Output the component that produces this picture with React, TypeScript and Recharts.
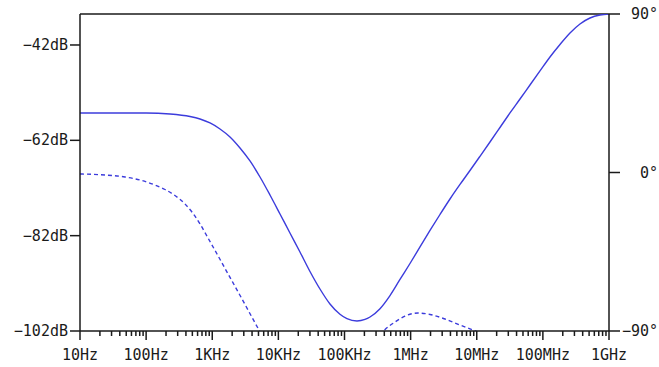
import React from 'react';
import { LineChart, Line, XAxis, YAxis, ReferenceLine } from 'recharts';

// ---- data ----
// magnitude (dB), solid line
const FREQ_MAG = [10, 100, 230, 461, 653, 925, 1310, 1855, 2628, 3722, 5272, 7467, 10580, 14970, 21220, 30060, 42570, 60300, 85400, 108900, 154400, 204000, 243000, 344300, 487600, 690600, 978000, 1386000, 1963000, 2780000, 3937000, 5580000, 7900000, 11190000, 15850000, 22450000, 31800000, 45100000, 63800000, 90400000, 128100000, 181500000, 257000000, 364000000, 516000000, 731000000, 1000000000];
const DB_MAG = [-56.26, -56.26, -56.47, -57.0, -57.52, -58.36, -59.62, -61.3, -63.61, -66.33, -69.69, -73.47, -77.45, -81.44, -85.42, -89.51, -93.19, -96.33, -98.49, -99.42, -99.9, -99.58, -99.06, -97.32, -94.57, -91.19, -87.84, -84.37, -80.91, -77.56, -74.31, -71.26, -68.33, -65.35, -62.35, -59.31, -56.26, -53.33, -50.39, -47.45, -44.52, -41.9, -39.48, -37.59, -36.34, -35.71, -35.5];

// phase (degrees), dashed line
const FREQ_PHASE = [10, 23.9, 48, 80.7, 136, 193, 273, 387, 512, 653, 863, 1181, 1561, 2820, 5094, 7467, 20000, 100000, 250000, 382000, 580000, 822000, 1294000, 1963000, 3310000, 5580000, 10450000, 15850000];
const DEG_PHASE = [-0.85, -1.42, -2.55, -4.26, -7.1, -9.65, -13.06, -17.89, -23.28, -29.24, -37.19, -46.28, -54.51, -71.83, -89.43, -100.2, -125, -125, -100, -90.3, -84.9, -81.5, -79.8, -80.6, -83.2, -86.6, -90.6, -93.4];

const X_MAJOR = [1e1, 1e2, 1e3, 1e4, 1e5, 1e6, 1e7, 1e8, 1e9];
const X_LABELS = ['10Hz', '100Hz', '1KHz', '10KHz', '100KHz', '1MHz', '10MHz', '100MHz', '1GHz'];
const DB_TICKS = [-102, -82, -62, -42];
const DB_LABELS = ['\u2212102dB', '\u221282dB', '\u221262dB', '\u221242dB'];
const DEG_TICKS = [-90, 0, 90];
const DEG_LABELS = ['\u221290\u00b0', '0\u00b0', '90\u00b0'];

const X_TICKS: number[] = [];
for (let k = 1; k <= 9; k++) {
  X_TICKS.push(Math.pow(10, k));
  if (k < 9) for (let m = 2; m <= 9; m++) X_TICKS.push(m * Math.pow(10, k));
}

const magData = FREQ_MAG.map((f, i) => ({ f, v: DB_MAG[i] }));
const phaseData = FREQ_PHASE.map((f, i) => ({ f, v: DEG_PHASE[i] }));

const FONT = '"DejaVu Sans Mono", monospace';
const INK = '#1a1a1a';
const BLUE = '#3c3cdc';

const XTick = (props: any) => {
  const { x, y, payload } = props;
  const v = payload.value;
  const idx = X_MAJOR.findIndex((m) => Math.abs(m - v) / m < 1e-9);
  const major = idx >= 0;
  return (
    <g>
      <line x1={x} x2={x} y1={y} y2={y + (major ? 9 : 5)} stroke={INK} strokeWidth={1.5} />
      {major && (
        <text x={x} y={y + 28.5} textAnchor="middle" fontFamily={FONT} fontSize={15} fill={INK}>
          {X_LABELS[idx]}
        </text>
      )}
    </g>
  );
};

const LeftTick = (props: any) => {
  const { x, y, payload } = props;
  const idx = DB_TICKS.indexOf(payload.value);
  return (
    <g>
      <line x1={x - 10} x2={x} y1={y} y2={y} stroke={INK} strokeWidth={1.5} />
      <text x={x - 12} y={y + 5} textAnchor="end" fontFamily={FONT} fontSize={15} fill={INK}>
        {DB_LABELS[idx]}
      </text>
    </g>
  );
};

const RightTick = (props: any) => {
  const { x, y, payload } = props;
  const idx = DEG_TICKS.indexOf(payload.value);
  return (
    <g>
      <line x1={x} x2={x + 11} y1={y} y2={y} stroke={INK} strokeWidth={1.5} />
      <text x={658} y={y + 5} textAnchor="end" fontFamily={FONT} fontSize={15} fill={INK}>
        {DEG_LABELS[idx]}
      </text>
    </g>
  );
};

export default function App() {
  return (
    <div style={{ position: 'absolute', left: 0, top: 0, width: 659, height: 367, background: '#fff' }}>
      <LineChart width={659} height={367} margin={{ top: 14, right: 0, bottom: 0, left: 0 }}>
        <XAxis
          dataKey="f"
          type="number"
          scale="log"
          domain={[10, 1e9]}
          ticks={X_TICKS}
          interval={0}
          allowDataOverflow
          height={36}
          tickSize={0}
          tickMargin={0}
          tickLine={false}
          tick={XTick}
          axisLine={{ stroke: INK, strokeWidth: 1.5 }}
        />
        <YAxis
          yAxisId="db"
          orientation="left"
          type="number"
          domain={[-102, -35.5]}
          ticks={DB_TICKS}
          interval={0}
          allowDataOverflow
          width={80}
          tickSize={0}
          tickMargin={0}
          tickLine={false}
          tick={LeftTick}
          axisLine={{ stroke: INK, strokeWidth: 1.5 }}
        />
        <YAxis
          yAxisId="deg"
          orientation="right"
          type="number"
          domain={[-90, 90]}
          ticks={DEG_TICKS}
          interval={0}
          allowDataOverflow
          width={50}
          tickSize={0}
          tickMargin={0}
          tickLine={false}
          tick={RightTick}
          axisLine={{ stroke: INK, strokeWidth: 1.5 }}
        />
        <ReferenceLine yAxisId="deg" y={90} stroke={INK} strokeWidth={1.5} ifOverflow="extendDomain" />
        <Line
          yAxisId="db"
          data={magData}
          dataKey="v"
          type="monotone"
          stroke={BLUE}
          strokeWidth={1.4}
          dot={false}
          activeDot={false}
          isAnimationActive={false}
        />
        <Line
          yAxisId="deg"
          data={phaseData}
          dataKey="v"
          type="monotone"
          stroke={BLUE}
          strokeWidth={1.4}
          strokeDasharray="4 3"
          dot={false}
          activeDot={false}
          isAnimationActive={false}
        />
      </LineChart>
    </div>
  );
}
